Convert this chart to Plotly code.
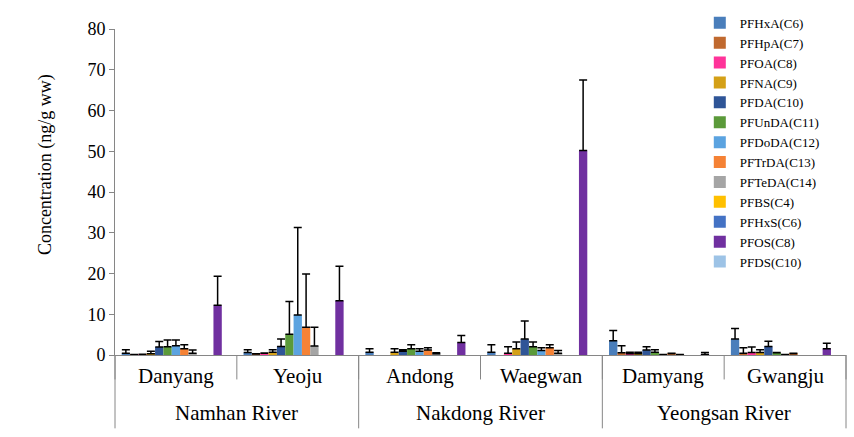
import plotly.graph_objects as go

sites = ["Danyang", "Yeoju", "Andong", "Waegwan", "Damyang", "Gwangju"]
rivers = ["Namhan River", "Nakdong River", "Yeongsan River"]
sites_per_river = [2, 2, 2]

series_names = ["PFHxA(C6)", "PFHpA(C7)", "PFOA(C8)", "PFNA(C9)", "PFDA(C10)",
                "PFUnDA(C11)", "PFDoDA(C12)", "PFTrDA(C13)", "PFTeDA(C14)",
                "PFBS(C4)", "PFHxS(C6)", "PFOS(C8)", "PFDS(C10)"]
colors = ["#4A7EBB", "#C0692F", "#FF3399", "#D4A017", "#2F5597", "#5B9A3A",
          "#5BA3E0", "#F58235", "#A5A5A5", "#FFC000", "#4472C4", "#7030A0", "#9DC3E6"]

# mean concentrations per site (ng/g ww)
pfhxa = [0.45, 0.6, 0.7, 0.7, 3.5, 3.9]
pfhpa = [0.1, 0.25, None, None, 0.55, 0.4]
pfoa = [0.15, 0.4, None, 0.45, 0.3, 0.6]
pfna = [0.3, 0.7, 0.7, 1.55, 0.3, 0.6]
pfda = [1.95, 2.1, 0.95, 3.9, 1.2, 2.1]
pfunda = [2.0, 5.1, 1.55, 2.0, 0.7, 0.55]
pfdoda = [2.3, 9.8, 0.95, 1.1, 0.1, 0.1]
pftrda = [1.55, 6.8, 1.2, 1.8, 0.3, 0.3]
pfteda = [0.45, 2.2, 0.3, 0.45, 0.1, None]
pfbs = [None, None, None, None, None, None]
pfhxs = [None, None, None, None, None, None]
pfos = [12.2, 13.3, 3.05, 50.2, 0.15, 1.55]
pfds = [None, None, None, None, None, None]

# standard deviations (upper error bars)
pfhxa_sd = [0.85, 0.7, 0.85, 1.8, 2.5, 2.6]
pfhpa_sd = [0.05, 0.05, None, None, 1.75, 1.4]
pfoa_sd = [0.05, 0.1, None, 1.55, 0.4, 1.35]
pfna_sd = [0.6, 0.6, 0.85, 1.65, 0.4, 0.7]
pfda_sd = [1.35, 1.8, 0.35, 4.45, 0.8, 1.3]
pfunda_sd = [1.7, 8.0, 0.95, 1.2, 0.6, 0.05]
pfdoda_sd = [1.4, 21.5, 0.6, 0.7, 0.05, 0.05]
pftrda_sd = [0.95, 13.1, 0.6, 0.7, 0.15, 0.1]
pfteda_sd = [0.75, 4.6, 0.25, 0.65, None, None]
pfbs_sd = [None] * 6
pfhxs_sd = [None] * 6
pfos_sd = [7.1, 8.45, 1.75, 17.3, 0.45, 1.35]
pfds_sd = [None] * 6

values = [pfhxa, pfhpa, pfoa, pfna, pfda, pfunda, pfdoda, pftrda, pfteda, pfbs, pfhxs, pfos, pfds]
errors = [pfhxa_sd, pfhpa_sd, pfoa_sd, pfna_sd, pfda_sd, pfunda_sd, pfdoda_sd, pftrda_sd,
          pfteda_sd, pfbs_sd, pfhxs_sd, pfos_sd, pfds_sd]

FONT = "Liberation Serif"
AXIS_COLOR = "#868686"

fig = go.Figure()
for name, col, vals, errs in zip(series_names, colors, values, errors):
    plus = [e if e is not None else float("nan") for e in errs]
    fig.add_trace(go.Bar(
        x=sites, y=vals, name=name,
        marker=dict(color=col, line=dict(width=0)),
        error_y=dict(type="data", symmetric=False, array=plus,
                     arrayminus=[0] * len(plus), color="black",
                     thickness=1.5, width=4),
    ))

n = len(sites)
shapes = []
annotations = []
# site boundary ticks (short)
for k in range(n + 1):
    shapes.append(dict(type="line", xref="paper", yref="paper",
                       x0=k / n, x1=k / n, y0=0, y1=-0.075,
                       line=dict(color=AXIS_COLOR, width=1)))
# river boundary lines (long)
pos = 0
shapes.append(dict(type="line", xref="paper", yref="paper", x0=0, x1=0,
                   y0=0, y1=-0.225, line=dict(color=AXIS_COLOR, width=1)))
for r, cnt in zip(rivers, sites_per_river):
    start = pos
    pos += cnt
    shapes.append(dict(type="line", xref="paper", yref="paper",
                       x0=pos / n, x1=pos / n, y0=0, y1=-0.225,
                       line=dict(color=AXIS_COLOR, width=1)))
    annotations.append(dict(text=r, xref="paper", yref="paper",
                            x=(start + pos) / 2 / n, y=-0.178,
                            xanchor="center", yanchor="middle", showarrow=False,
                            font=dict(family=FONT, size=21, color="black")))
for i, s in enumerate(sites):
    annotations.append(dict(text=s, xref="paper", yref="paper",
                            x=(i + 0.5) / n, y=-0.065,
                            xanchor="center", yanchor="middle", showarrow=False,
                            font=dict(family=FONT, size=21, color="black")))
# y-axis title
annotations.append(dict(text="Concentration (ng/g ww)", xref="paper", yref="paper",
                        x=-0.096, y=0.585, xanchor="center", yanchor="middle",
                        textangle=-90, showarrow=False,
                        font=dict(family=FONT, size=18, color="black")))

fig.update_layout(
    width=854, height=437,
    margin=dict(l=115, r=8, t=13, b=82),
    paper_bgcolor="white", plot_bgcolor="white",
    barmode="group", bargap=0.11, bargroupgap=0,
    font=dict(family=FONT, size=17, color="black"),
    xaxis=dict(type="category", showticklabels=False, ticks="",
               showline=True, linecolor=AXIS_COLOR, linewidth=1,
               showgrid=False, zeroline=False, range=[-0.5, n - 0.5]),
    yaxis=dict(range=[0, 80], dtick=10, tick0=0, showgrid=False, zeroline=False,
               showline=True, linecolor=AXIS_COLOR, linewidth=1,
               ticks="outside", ticklen=5, tickcolor=AXIS_COLOR,
               tickfont=dict(family=FONT, size=18, color="black")),
    legend=dict(x=0.8, y=1.065, xanchor="left", yanchor="top",
                bgcolor="rgba(0,0,0,0)", font=dict(family=FONT, size=13, color="black"),
                itemwidth=30, tracegroupgap=0, maxheight=430),
    shapes=shapes, annotations=annotations,
)

fig.write_html("out.html")
